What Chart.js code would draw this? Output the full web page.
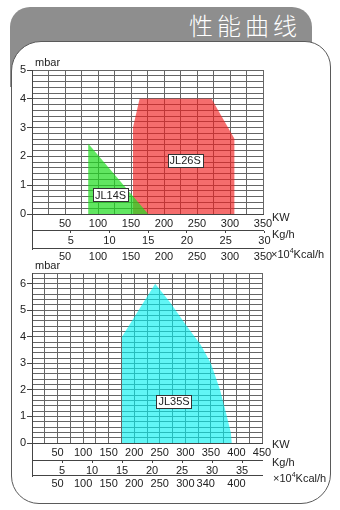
<!DOCTYPE html>
<html>
<head>
<meta charset="utf-8">
<script src="https://cdn.jsdelivr.net/npm/chart.js@4/dist/chart.umd.min.js"></script>
<style>
    html, body { margin: 0; padding: 0; background: #fff; }
    #page { position: relative; width: 340px; height: 510px; overflow: hidden; }
    #tab { position: absolute; left: 10px; top: 7px; width: 302px; height: 80px; background: #8e8e8e; border-radius: 20px 20px 0 0; }
    #title { position: absolute; right: 39px; top: 13px; font: 300 24px/24px "Noto Sans CJK SC", sans-serif; letter-spacing: 4px; color: #fff; }
    #panel { position: absolute; left: 11px; top: 41px; width: 318px; height: 461px; background: #fff; border: 1.5px solid #5a5a5a; border-radius: 30px 26px 30px 28px; }
    canvas { position: absolute; left: 0; }
</style>
</head>
<body>
<div id="page">
    <div id="tab"></div>
    <div id="title">性能曲线</div>
    <div id="panel"></div>
    <canvas id="chartTop" width="340" height="215" style="top:50px"></canvas>
    <canvas id="chartBottom" width="340" height="242" style="top:255px"></canvas>
</div>
<script>
/* ---------------- donnees ---------------- */
const KW_PER_KG = 11.74;

// graphique du haut
const kwTop = [50, 100, 150, 200, 250, 300, 350];
const kgTop = [5, 10, 15, 20, 25, 30];
const kcalTop = [50, 100, 150, 200, 250, 300, 350];
const mbarTop = [0, 1, 2, 3, 4, 5];
const jl14sKw = [85, 85, 176];
const jl14sMbar = [0, 2.45, 0];
const jl26sKw = [153, 153, 163, 272, 307, 307];
const jl26sMbar = [0, 3, 4, 4, 2.6, 0];

// graphique du bas
const kwBottom = [50, 100, 150, 200, 250, 300, 350, 400, 450];
const kgBottom = [5, 10, 15, 20, 25, 30, 35];
const kcalBottom = [50, 100, 150, 200, 250, 300, 340, 400];
const mbarBottom = [0, 1, 2, 3, 4, 5, 6];
const jl35sKw = [176, 176, 241, 270, 303, 330, 350, 368, 380, 389, 391];
const jl35sMbar = [0, 4, 6, 5.3, 4.4, 3.7, 3.0, 2.0, 1.1, 0.4, 0];

/* ---------------- styles ---------------- */
const GRID = '#666';
const AXIS = '#444';
const TXT = '#222';
const FONT = { family: '"Liberation Sans", Arial, sans-serif', size: 11 };
Chart.defaults.font.family = FONT.family;

/* noms des zones, unites, trait vertical gauche, "mbar" */
const extras = {
    id: 'extras',
    afterDatasetsDraw(chart, args, o) {
        const { ctx } = chart;
        const x = chart.scales.x, y = chart.scales.y;
        ctx.save();
        ctx.font = '11px ' + FONT.family;
        ctx.textAlign = 'center';
        ctx.textBaseline = 'middle';
        o.names.forEach(n => {
            const px = x.getPixelForValue(n.at[0]);
            const py = y.getPixelForValue(n.at[1]);
            const w = ctx.measureText(n.text).width + 4;
            const h = 13;
            ctx.fillStyle = '#fff';
            ctx.fillRect(Math.round(px - w / 2) + 0.5, Math.round(py - h / 2) + 0.5, Math.round(w), h);
            ctx.strokeStyle = '#333';
            ctx.lineWidth = 1;
            ctx.strokeRect(Math.round(px - w / 2) + 0.5, Math.round(py - h / 2) + 0.5, Math.round(w), h);
            ctx.fillStyle = TXT;
            ctx.fillText(n.text, px, py + 0.5);
        });
        ctx.restore();
    },
    afterDraw(chart, args, o) {
        const { ctx, chartArea } = chart;
        const s = chart.scales;
        ctx.save();
        // trait vertical qui ferme les lignes d'unites
        ctx.strokeStyle = AXIS;
        ctx.lineWidth = 1;
        ctx.beginPath();
        ctx.moveTo(Math.round(chartArea.left) + 0.5, chartArea.bottom);
        ctx.lineTo(Math.round(chartArea.left) + 0.5, s.x3.top + 2);
        ctx.stroke();

        ctx.fillStyle = TXT;
        ctx.font = '11px ' + FONT.family;
        ctx.textAlign = 'left';
        ctx.textBaseline = 'middle';
        ctx.fillText('mbar', chartArea.left + 3, chartArea.top - 7);

        // unites a droite de chaque ligne
        ['x', 'x2', 'x3'].forEach((id, i) => {
            const u = o.units[i];
            let px = chartArea.right + u.dx;
            const py = s[id].top + u.dy;
            if (id === 'x3') {
                ctx.font = '11px ' + FONT.family;
                ctx.fillText('×10', px, py);
                px += ctx.measureText('×10').width;
                ctx.font = '7px ' + FONT.family;
                ctx.fillText('4', px, py - 4);
                px += ctx.measureText('4').width;
                ctx.font = '11px ' + FONT.family;
                ctx.fillText('Kcal/h', px, py);
            } else {
                ctx.fillText(u.text, px, py);
            }
        });
        ctx.restore();
    }
};

function buildChart(id, cfg) {
    const datasets = cfg.series.map(sr => ({
        label: sr.name,
        data: sr.kw.map((v, i) => ({ x: v, y: sr.mbar[i] })),
        backgroundColor: sr.color,
        borderWidth: 0,
        pointRadius: 0,
        tension: 0,
        fill: 'origin'
    }));
    const rowTick = (list) => (v) => list.includes(v) ? String(v) : '';

    return new Chart(document.getElementById(id), {
        type: 'line',
        data: { datasets: datasets },
        plugins: [extras],
        options: {
            responsive: false,
            animation: false,
            events: [],
            layout: { padding: { top: cfg.padTop, left: 0, right: cfg.padRight, bottom: cfg.padBottom } },
            plugins: {
                legend: { display: false },
                tooltip: { enabled: false },
                extras: { names: cfg.names, units: cfg.units }
            },
            scales: {
                x: {
                    type: 'linear', position: 'bottom', weight: 1,
                    min: 0, max: cfg.xMax,
                    afterFit: s => { s.height = cfg.rows[0]; },
                    grid: { color: GRID, lineWidth: 1, drawTicks: false },
                    border: { color: AXIS },
                    ticks: {
                        stepSize: 25, autoSkip: false, maxRotation: 0, padding: 3,
                        color: TXT, font: FONT, callback: rowTick(cfg.kw)
                    }
                },
                x2: {
                    type: 'linear', position: 'bottom', weight: 2,
                    min: 0, max: cfg.xMax,
                    afterFit: s => { s.height = cfg.rows[1]; },
                    afterBuildTicks: s => { s.ticks = cfg.kg.map(v => ({ value: v * KW_PER_KG })); },
                    grid: { drawOnChartArea: false, drawTicks: true, tickLength: 3, color: AXIS },
                    border: { color: AXIS },
                    ticks: {
                        autoSkip: false, maxRotation: 0, padding: 1,
                        color: TXT, font: FONT, callback: (v, i) => String(cfg.kg[i])
                    }
                },
                x3: {
                    type: 'linear', position: 'bottom', weight: 3,
                    min: 0, max: cfg.xMax,
                    afterFit: s => { s.height = cfg.rows[2]; },
                    afterBuildTicks: s => { s.ticks = cfg.kcal.map(v => ({ value: v })); },
                    grid: { drawOnChartArea: false, drawTicks: false },
                    border: { color: AXIS },
                    ticks: {
                        autoSkip: false, maxRotation: 0, padding: 2,
                        color: TXT, font: FONT, callback: (v, i) => String(cfg.kcal[i])
                    }
                },
                y: {
                    type: 'linear', min: 0, max: cfg.yMax,
                    afterFit: s => { s.width = 32; },
                    afterBuildTicks: s => {
                        const n = Math.round(cfg.yMax / 0.2);
                        s.ticks = [];
                        for (let i = 0; i <= n; i++) s.ticks.push({ value: +(i * 0.2).toFixed(2) });
                    },
                    grid: {
                        color: GRID, lineWidth: 1, tickLength: 5,
                        tickColor: c => cfg.mbar.includes(c.tick.value) ? AXIS : 'transparent'
                    },
                    border: { color: AXIS },
                    ticks: {
                        autoSkip: false, padding: 1, color: TXT, font: FONT,
                        callback: v => cfg.mbar.includes(v) ? String(v) : ''
                    }
                }
            }
        }
    });
}

/* ---------------- graphique du haut ---------------- */
buildChart('chartTop', {
    xMax: 350, yMax: 5,
    padTop: 20, padRight: 77, padBottom: 3,
    rows: [16, 18, 14],
    kw: kwTop, kg: kgTop, kcal: kcalTop, mbar: mbarTop,
    series: [
        { name: 'JL14S', kw: jl14sKw, mbar: jl14sMbar, color: 'rgba(30, 220, 30, 0.7)' },
        { name: 'JL26S', kw: jl26sKw, mbar: jl26sMbar, color: 'rgba(240, 30, 30, 0.65)' }
    ],
    names: [
        { text: 'JL14S', at: [119, 0.66] },
        { text: 'JL26S', at: [232, 1.86] }
    ],
    units: [
        { text: 'KW', dx: 9, dy: 4 },
        { text: 'Kg/h', dx: 9, dy: 5 },
        { text: 'Kcal', dx: 8, dy: 7 }
    ]
});

/* ---------------- graphique du bas ---------------- */
buildChart('chartBottom', {
    xMax: 450, yMax: 6.4,
    padTop: 18, padRight: 78, padBottom: 7,
    rows: [17, 15, 15],
    kw: kwBottom, kg: kgBottom, kcal: kcalBottom, mbar: mbarBottom,
    series: [
        { name: 'JL35S', kw: jl35sKw, mbar: jl35sMbar, color: 'rgba(0, 240, 240, 0.62)' }
    ],
    names: [
        { text: 'JL35S', at: [278, 1.58] }
    ],
    units: [
        { text: 'KW', dx: 10, dy: 2 },
        { text: 'Kg/h', dx: 10, dy: 3 },
        { text: 'Kcal', dx: 11, dy: 4 }
    ]
});
</script>
</body>
</html>
